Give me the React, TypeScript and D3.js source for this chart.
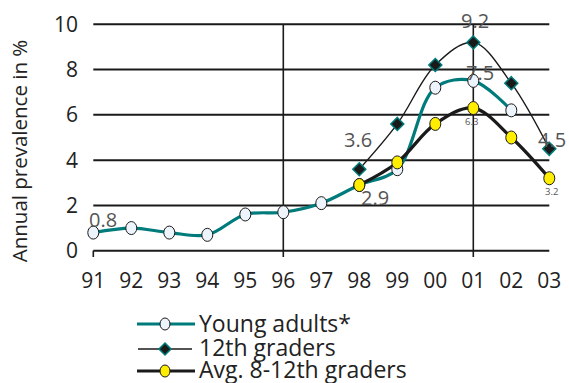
import React from "react";
import * as d3 from "d3";

const years = ["91", "92", "93", "94", "95", "96", "97", "98", "99", "00", "01", "02", "03"];
const youngAdults: (number | null)[] = [0.8, 1.0, 0.8, 0.7, 1.6, 1.7, 2.1, 2.9, 3.6, 7.2, 7.5, 6.2, null];
const grade12: (number | null)[] = [null, null, null, null, null, null, null, 3.6, 5.6, 8.2, 9.2, 7.4, 4.5];
const avg812: (number | null)[] = [null, null, null, null, null, null, null, 2.9, 3.9, 5.6, 6.3, 5.0, 3.2];
const yTicks = [0, 2, 4, 6, 8, 10];
const vLines = ["96", "01"];
const seriesNames = ["Young adults*", "12th graders", "Avg. 8-12th graders"];

const FONT = "'Open Sans', 'DejaVu Sans', sans-serif";
const TEAL = "#007b7b";

export default function App() {
  const W = 569, H = 383;
  const x = d3.scalePoint<string>().domain(years).range([93.3, 549.3]);
  const y = d3.scaleLinear().domain([0, 10]).range([250.7, 24.3]);

  const pts = (arr: (number | null)[]) =>
    years.map((yr, i) => ({ yr, v: arr[i] })).filter((d) => d.v !== null) as { yr: string; v: number }[];

  const line = d3
    .line<{ yr: string; v: number }>()
    .x((d) => x(d.yr)!)
    .y((d) => y(d.v))
    .curve(d3.curveCatmullRom.alpha(0.5));

  const ya = pts(youngAdults);
  const g12 = pts(grade12);
  const av = pts(avg812);

  const diamond = (cx: number, cy: number, r: number) =>
    `M${cx},${cy - r}L${cx + r},${cy}L${cx},${cy + r}L${cx - r},${cy}Z`;

  const labelColor = "#555";

  return (
    <svg width={W} height={H} style={{ position: "absolute", left: 0, top: 0 }} fontFamily={FONT}>
      <rect width={W} height={H} fill="#fff" />
      {yTicks.map((t) => (
        <g key={t}>
          <line x1={93.3} x2={549.3} y1={y(t)} y2={y(t)} stroke="#1a1a1a" strokeWidth={2} />
          <text x={78} y={y(t)} dy="0.36em" textAnchor="end" fontSize={21} fill="#222">
            {t}
          </text>
        </g>
      ))}
      {vLines.map((v) => (
        <line key={v} x1={x(v)} x2={x(v)} y1={y(10)} y2={257} stroke="#1a1a1a" strokeWidth={1.6} />
      ))}
      <line x1={x("91")} x2={x("91")} y1={y(0)} y2={257} stroke="#1a1a1a" strokeWidth={1.6} />
      {years.map((yr) => (
        <text key={yr} x={x(yr)} y={288} textAnchor="middle" fontSize={21} fill="#222">
          {yr}
        </text>
      ))}
      <text
        transform="translate(27,151) rotate(-90)"
        textAnchor="middle"
        fontSize={20.5}
        fill="#222"
      >
        Annual prevalence in %
      </text>

      {/* lines */}
      <path d={line(g12)!} fill="none" stroke="#1a1a1a" strokeWidth={1.4} />
      <path d={line(ya)!} fill="none" stroke={TEAL} strokeWidth={3.2} />
      <path d={line(av)!} fill="none" stroke="#1a1a1a" strokeWidth={3.2} />

      {/* markers */}
      {g12.map((d) => (
        <path key={"g" + d.yr} d={diamond(x(d.yr)!, y(d.v), 6.5)} fill="#1a1a1a" stroke={TEAL} strokeWidth={1.5} />
      ))}
      {ya.map((d) => (
        <ellipse key={"y" + d.yr} cx={x(d.yr)!} cy={y(d.v)} rx={5.5} ry={6.5} fill="#eef4fb" stroke="#1a1a1a" strokeWidth={1} />
      ))}
      {av.map((d) => (
        <ellipse key={"a" + d.yr} cx={x(d.yr)!} cy={y(d.v)} rx={5.5} ry={6.5} fill="#ffee00" stroke="#1a1a1a" strokeWidth={1} />
      ))}

      {/* data labels */}
      <text x={89} y={227} fontSize={20} fill={labelColor}>0.8</text>
      <text x={461} y={28} fontSize={20} fill={labelColor}>9.2</text>
      <text x={466} y={80} fontSize={20} fill={labelColor}>7.5</text>
      <text x={344} y={147} fontSize={20} fill={labelColor}>3.6</text>
      <text x={361} y={205} fontSize={20} fill={labelColor}>2.9</text>
      <text x={538} y={147} fontSize={20} fill={labelColor}>4.5</text>
      <text x={465} y={125} fontSize={9.5} fill={labelColor}>6.3</text>
      <text x={545} y={195} fontSize={9.5} fill={labelColor}>3.2</text>

      {/* legend */}
      <g>
        <line x1={137} x2={195} y1={324} y2={324} stroke={TEAL} strokeWidth={3.2} />
        <ellipse cx={165} cy={324} rx={5} ry={6} fill="#eef4fb" stroke="#1a1a1a" strokeWidth={1} />
        <text x={199} y={332} fontSize={23} fill="#222">{seriesNames[0]}</text>

        <line x1={138} x2={192} y1={349} y2={349} stroke="#1a1a1a" strokeWidth={1.4} />
        <path d={diamond(165, 349, 6)} fill="#1a1a1a" stroke={TEAL} strokeWidth={1.5} />
        <text x={199} y={356} fontSize={23} fill="#222">{seriesNames[1]}</text>

        <line x1={137} x2={195} y1={371} y2={371} stroke="#1a1a1a" strokeWidth={3.2} />
        <ellipse cx={165} cy={371} rx={5} ry={6} fill="#ffee00" stroke="#1a1a1a" strokeWidth={1} />
        <text x={199} y={378} fontSize={23} fill="#222">{seriesNames[2]}</text>
      </g>
    </svg>
  );
}
